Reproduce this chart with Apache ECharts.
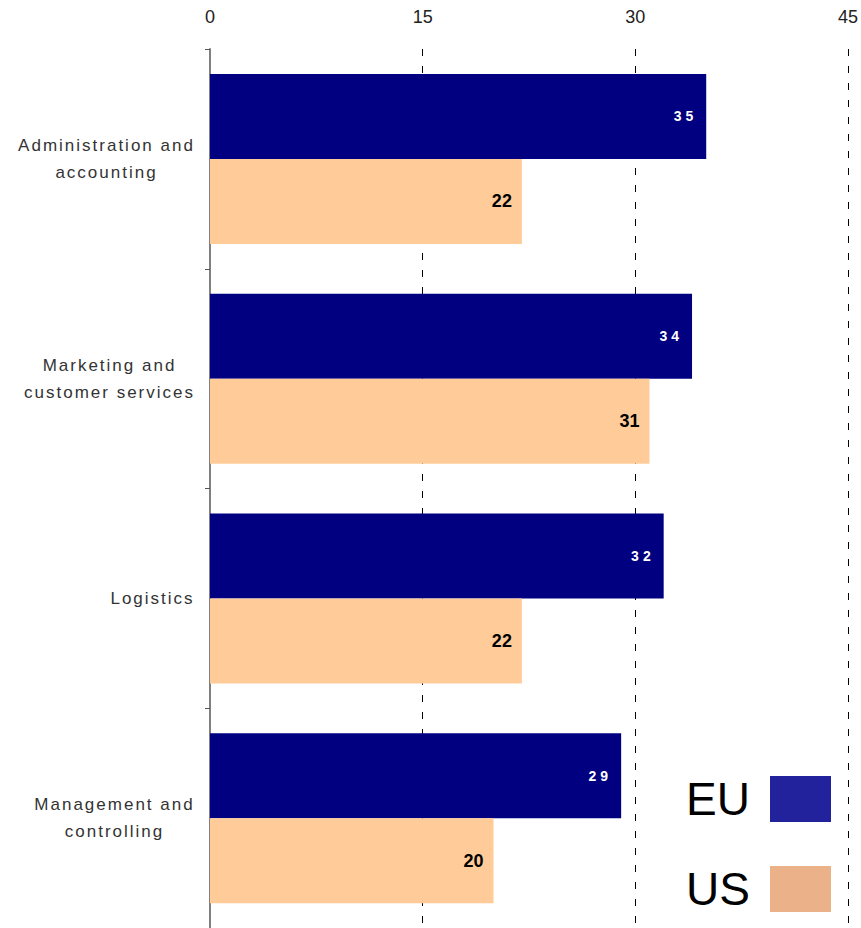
<!DOCTYPE html>
<html>
<head>
<meta charset="utf-8">
<style>
  html, body { margin: 0; padding: 0; background: #fff; }
  #chart { width: 861px; height: 928px; }
  /* spaced-out lettering for the category names and the EU value labels */
  #chart text[fill="#333"], #chart text[fill="#333333"], #chart text[fill="rgb(51,51,51)"] { letter-spacing: 2px; }
  #chart text[fill="#fff"], #chart text[fill="#ffffff"], #chart text[fill="rgb(255,255,255)"] { letter-spacing: 4px; }
</style>
<script src="https://cdn.jsdelivr.net/npm/echarts@6/dist/echarts.min.js"></script>
</head>
<body>
<div id="chart"></div>
<script>
// Job functions compared between the EU and the US
const categories = [
  'Administration and\naccounting',
  'Marketing and\ncustomer services',
  'Logistics',
  'Management and\ncontrolling'
];
const euValues = [35, 34, 32, 29];
const usValues = [22, 31, 22, 20];
const xTicks = [0, 15, 30, 45];

const EU_BAR = '#000080';
const US_BAR = '#FFCC99';
const EU_KEY = '#22229C';
const US_KEY = '#EBB189';

const FONT = '"Liberation Sans", Arial, sans-serif';
const CAT_SIZE = 17;
const CAT_SPACING = 2;

// Category names are drawn with extra letter spacing, so each line gets a
// rich-text box as wide as the spaced text; lines are centred in the block
// and the block is right-aligned against the axis.
const measureCtx = document.createElement('canvas').getContext('2d');
measureCtx.font = CAT_SIZE + 'px ' + FONT;
function spacedWidth(s) {
  return Math.ceil(measureCtx.measureText(s).width + s.length * CAT_SPACING);
}
const catRich = {};
categories.forEach((cat, i) => {
  cat.split('\n').forEach((line, j) => {
    catRich['c' + i + '_' + j] = {
      width: spacedWidth(line),
      align: 'center',
      fontSize: CAT_SIZE,
      fontFamily: FONT,
      color: '#333',
      lineHeight: 27
    };
  });
});

const chart = echarts.init(document.getElementById('chart'), null, { renderer: 'svg' });

chart.setOption({
  animation: false,
  backgroundColor: '#ffffff',
  textStyle: { fontFamily: FONT },
  grid: { left: 210, right: 12, top: 49, height: 881, containLabel: false },
  legend: {
    orient: 'vertical',
    right: 30,
    top: 776,
    padding: 0,
    itemWidth: 61,
    itemHeight: 46,
    itemGap: 44,
    align: 'right',
    icon: 'rect',
    textStyle: { fontSize: 46, color: '#000', padding: [0, 15, 0, 0] },
    data: [
      { name: 'EU', itemStyle: { color: EU_KEY } },
      { name: 'US', itemStyle: { color: US_KEY } }
    ]
  },
  xAxis: {
    type: 'value',
    position: 'top',
    min: xTicks[0],
    max: xTicks[xTicks.length - 1],
    interval: xTicks[1] - xTicks[0],
    axisLine: { show: false },
    axisTick: { show: false },
    axisLabel: { fontSize: 18, color: '#222', margin: 23 },
    splitLine: {
      show: true,
      lineStyle: { color: '#000', width: 1, type: [7, 10] }
    }
  },
  yAxis: {
    type: 'category',
    inverse: true,
    data: categories,
    axisLine: { show: true, lineStyle: { color: '#808080', width: 2 } },
    axisTick: { show: true, length: 5, lineStyle: { color: '#555', width: 1 } },
    axisLabel: {
      align: 'right',
      margin: 15,
      lineHeight: 27,
      rich: catRich,
      formatter: (value, index) =>
        value.split('\n').map((line, j) => '{c' + index + '_' + j + '|' + line + '}').join('\n')
    },
    splitLine: { show: false }
  },
  series: [
    {
      name: 'EU',
      type: 'bar',
      data: euValues,
      barWidth: 85,
      barGap: '0%',
      itemStyle: { color: EU_BAR },
      label: {
        show: true,
        position: 'insideRight',
        distance: 9,
        color: '#fff',
        fontSize: 14,
        fontWeight: 'bold'
      }
    },
    {
      name: 'US',
      type: 'bar',
      data: usValues,
      barWidth: 85,
      itemStyle: { color: US_BAR },
      label: {
        show: true,
        position: 'insideRight',
        distance: 10,
        color: '#000',
        fontSize: 18,
        fontWeight: 'bold'
      }
    }
  ]
});
</script>
</body>
</html>
